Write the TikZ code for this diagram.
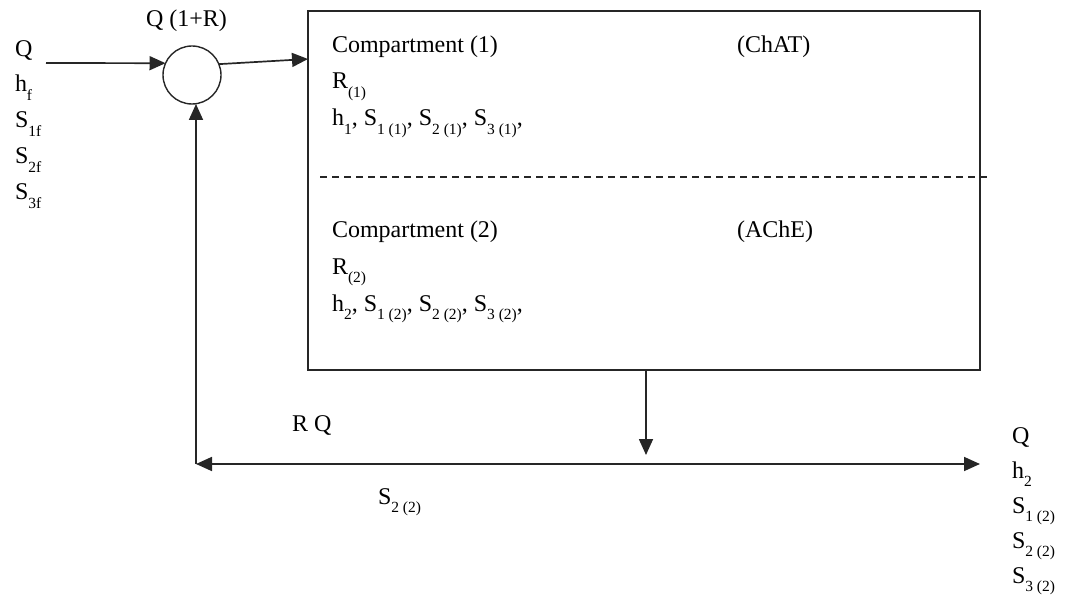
\documentclass[tikz,border=0pt]{standalone}
\usepackage{fontspec}
\setmainfont{Liberation Serif}
\usetikzlibrary{arrows.meta}
\newcommand{\sbx}[1]{\raisebox{-0.36em}{\fontsize{15.5}{16}\selectfont #1}}
\begin{document}
\begin{tikzpicture}[x=1pt,y=-1pt,
  every node/.style={font=\fontsize{24}{28}\selectfont, inner sep=0pt, outer sep=0pt},
  lbl/.style={anchor=base west},
  line/.style={draw=black!85, line width=1.7pt},
  arr/.style={line, -{Triangle[length=16pt,width=14pt]}},
  both/.style={line, {Triangle[length=16pt,width=14pt]}-{Triangle[length=16pt,width=14pt]}},
  boxstyle/.style={draw=black!85, line width=2.6pt, minimum width=672pt, minimum height=359pt, anchor=north west},
  mixstyle/.style={circle, draw=black!85, line width=1.4pt, minimum size=58pt},
  divider/.style={draw=black!85, line width=2.6pt, dash pattern=on 7pt off 5pt}
  ]
\useasboundingbox (0,0) rectangle (1071,596);

% shapes
\node[boxstyle] (box) at (308,11) {};
\node[mixstyle] (mix) at (192,75) {};

% coordinates
\coordinate (qin) at (46,63);
\coordinate (boxin) at (box.north west |- 0,59);
\coordinate (dashL) at (320,177);
\coordinate (dashR) at (990,177);
\coordinate (outtop) at (box.south west -| 646,0);
\coordinate (outtip) at (646,455);
\coordinate (corner) at (196,464);
\coordinate (outR) at (980,464);
\coordinate (mixbot) at (196,104);

% connectors
\draw[arr] (qin) -- (mix.156);
\draw[arr] (mix.22) -- (boxin);
\draw[divider] (dashL) -- (dashR);
\draw[arr] (outtop) -- (outtip);
\draw[both] (corner) -- (outR);
\draw[arr] (corner) -- (mixbot);

% left labels
\node[lbl] (lq) at (15,57) {Q};
\node[lbl] (lh) at (15,92) {h\sbx{f}};
\node[lbl] (ls1) at (15,128) {S\sbx{1f}};
\node[lbl] (ls2) at (15,164) {S\sbx{2f}};
\node[lbl] (ls3) at (15,200) {S\sbx{3f}};
\node[lbl] (lmix) at (146,27) {Q (1+R)};

% compartment 1
\node[lbl] (c1) at (332,53) {Compartment (1)};
\node[lbl] (r1) at (332,89) {R\sbx{(1)}};
\node[lbl] (v1) at (332,126) {h\sbx{1}, S\sbx{1 (1)}, S\sbx{2 (1)}, S\sbx{3 (1)},};
\node[lbl] (e1) at (737,53) {(ChAT)};

% compartment 2
\node[lbl] (c2) at (332,237) {Compartment (2)};
\node[lbl] (r2) at (332,274) {R\sbx{(2)}};
\node[lbl] (v2) at (332,311) {h\sbx{2}, S\sbx{1 (2)}, S\sbx{2 (2)}, S\sbx{3 (2)},};
\node[lbl] (e2) at (737,237) {(AChE)};

% bottom labels
\node[lbl] (rq) at (292,431) {R Q};
\node[lbl] (s22) at (378,504) {S\sbx{2 (2)}};

% right labels
\node[lbl] (oq) at (1012,443) {Q};
\node[lbl] (oh) at (1012,478) {h\sbx{2}};
\node[lbl] (os1) at (1012,513) {S\sbx{1 (2)}};
\node[lbl] (os2) at (1012,548) {S\sbx{2 (2)}};
\node[lbl] (os3) at (1012,583) {S\sbx{3 (2)}};
\end{tikzpicture}
\end{document}
